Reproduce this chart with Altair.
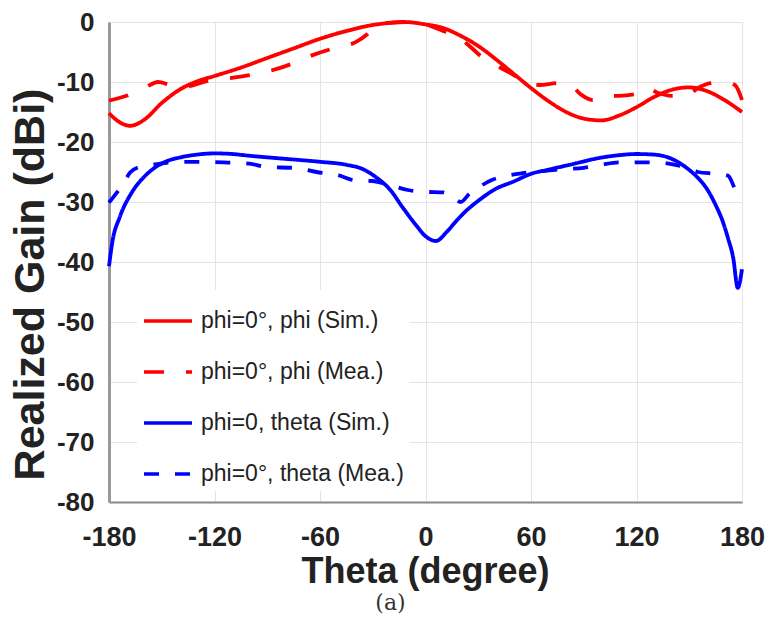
import altair as alt
import pandas as pd

# ---- data ----
red_sim_theta = [-180, -175, -168, -160, -150, -140, -130, -120, -105, -90, -75, -60, -45, -30, -20, -12, 0, 10, 20, 30, 40, 50, 60, 70, 80, 90, 100, 110, 120, 130, 140, 150, 160, 170, 180]
red_sim_gain = [-15.2, -16.5, -17.3, -16.3, -13.5, -11.3, -9.9, -9.0, -7.6, -6.0, -4.4, -2.8, -1.5, -0.5, -0.15, 0.0, -0.4, -1.0, -2.3, -4.0, -6.2, -8.6, -11.0, -13.2, -15.0, -16.1, -16.4, -15.6, -14.2, -12.5, -11.3, -10.9, -11.5, -13.0, -15.0]

red_mea_theta = [-180, -170, -160, -152, -145, -135, -125, -110, -95, -80, -65, -50, -40, -33, -28, -20, -10, 0, 10, 18, 25, 32, 40, 50, 58, 65, 75, 82, 88, 95, 102, 110, 120, 126, 132, 140, 148, 155, 162, 170, 176, 180]
red_mea_gain = [-13.1, -12.3, -11.0, -10.0, -10.5, -10.7, -9.9, -9.3, -8.6, -7.4, -5.6, -4.2, -3.4, -2.0, -0.5, -0.1, 0.0, -0.4, -1.5, -2.3, -4.0, -5.8, -7.2, -8.8, -10.3, -10.5, -10.2, -10.4, -12.0, -13.0, -12.3, -12.3, -12.0, -11.0, -11.8, -12.3, -12.3, -11.0, -10.2, -10.0, -10.5, -13.0]

blue_sim_theta = [-180, -178, -174, -167, -160, -155, -148, -140, -130, -120, -110, -100, -80, -60, -45, -35, -28, -20, -13, -5, 0, 6, 12, 18, 23, 30, 40, 50, 60, 70, 82, 100, 110, 120, 130, 140, 148, 155, 160, 165, 169, 172, 175, 177.6, 180]
blue_sim_gain = [-40.7, -36.5, -32.6, -28.4, -25.8, -24.5, -23.3, -22.6, -22.1, -21.9, -22.0, -22.3, -22.8, -23.3, -23.8, -24.6, -25.9, -28.0, -30.9, -34.0, -35.7, -36.5, -35.0, -33.0, -31.5, -29.8, -27.8, -26.6, -25.3, -24.6, -23.8, -22.6, -22.2, -22.0, -22.1, -22.8, -24.2, -26.0, -27.8, -30.5, -33.2, -36.0, -39.3, -44.3, -41.2]

blue_mea_theta = [-180, -176, -172, -168, -163, -155, -145, -130, -115, -100, -90, -75, -62, -50, -40, -30, -20, -10, 0, 10, 16, 20, 25, 30, 38, 45, 55, 65, 75, 90, 100, 110, 130, 145, 155, 165, 172, 176, 180]
blue_mea_gain = [-30.1, -28.6, -27.0, -25.1, -24.2, -23.8, -23.4, -23.3, -23.4, -23.6, -24.2, -24.3, -25.0, -25.5, -26.4, -26.5, -27.2, -28.0, -28.3, -28.4, -29.3, -30.0, -28.6, -27.6, -26.3, -25.7, -25.2, -24.9, -24.6, -24.3, -23.8, -23.4, -23.4, -24.0, -25.0, -25.3, -25.6, -27.8, -29.8]

series_names = [
    "phi=0\u00b0, phi (Sim.)",
    "phi=0\u00b0, phi (Mea.)",
    "phi=0, theta (Sim.)",
    "phi=0\u00b0, theta (Mea.)",
]
series_colors = ["#ff0000", "#ff0000", "#0000ff", "#0000ff"]
series_dash = [[1, 0], [20, 22], [1, 0], [15, 16]]

x_ticks = [-180, -120, -60, 0, 60, 120, 180]
y_ticks = [-80, -70, -60, -50, -40, -30, -20, -10, 0]

rows = []
for name, th, g in zip(series_names,
                       [red_sim_theta, red_mea_theta, blue_sim_theta, blue_mea_theta],
                       [red_sim_gain, red_mea_gain, blue_sim_gain, blue_mea_gain]):
    for i, (t, v) in enumerate(zip(th, g)):
        rows.append({"series": name, "theta": t, "gain": v, "order": i})
df = pd.DataFrame(rows)

FONT = "Liberation Sans"

legend_opts = dict(title=None, orient="none", legendX=28, legendY=268,
                   symbolType="stroke", symbolSize=2304,
                   symbolStrokeWidth=3.5, labelFontSize=23,
                   labelFont=FONT, labelColor="#222", labelOffset=7,
                   rowPadding=13, padding=5, fillColor="white",
                   labelLimit=400)

chart = alt.Chart(df).mark_line(strokeWidth=3.8, interpolate="monotone").encode(
    x=alt.X("theta:Q",
            scale=alt.Scale(domain=[-180, 180], nice=False, zero=False),
            axis=alt.Axis(values=x_ticks, title="Theta (degree)", ticks=False,
                          labelFlush=False, labelExpr="'' + datum.value",
                          labelPadding=22, labelFontSize=27, labelFont=FONT,
                          labelFontWeight="bold", labelColor="#222",
                          titleFontSize=36, titleFont=FONT, titleFontWeight="bold",
                          titleColor="#222", titleBaseline="alphabetic",
                          titleX=316, titleY=80, titleAnchor="middle",
                          domainColor="#888", domainWidth=2,
                          gridColor="#e4e4e4", gridWidth=1)),
    y=alt.Y("gain:Q",
            scale=alt.Scale(domain=[-80, 0], nice=False, zero=False),
            axis=alt.Axis(values=y_ticks, title="Realized Gain (dBi)", ticks=False,
                          labelFlush=False, labelExpr="'' + datum.value",
                          labelPadding=15, labelFontSize=26, labelFont=FONT,
                          labelFontWeight="bold", labelColor="#222",
                          titleFontSize=43, titleFont=FONT, titleFontWeight="bold",
                          titleColor="#222", titleBaseline="alphabetic",
                          titleX=-66, titleY=262, titleAngle=270, titleAlign="center",
                          domainColor="#999", domainWidth=3,
                          gridColor="#e4e4e4", gridWidth=1)),
    color=alt.Color("series:N",
                    scale=alt.Scale(domain=series_names, range=series_colors),
                    legend=alt.Legend(**legend_opts)),
    strokeDash=alt.StrokeDash("series:N",
                              scale=alt.Scale(domain=series_names, range=series_dash),
                              legend=alt.Legend(**legend_opts)),
    order="order:Q",
).properties(
    width=633,
    height=480,
    autosize=alt.AutoSizeParams(type="none"),
    padding={"left": 109, "top": 22, "right": 29, "bottom": 126},
    title=alt.TitleParams("(a)", orient="bottom", anchor="middle", dx=-35, offset=4,
                          font="DejaVu Serif", fontSize=22, fontWeight="normal",
                          color="#333"),
).configure_view(
    stroke="#dddddd", strokeWidth=1
).configure(background="white")

chart.save("out.html", embed_options={"renderer": "svg", "actions": False})
